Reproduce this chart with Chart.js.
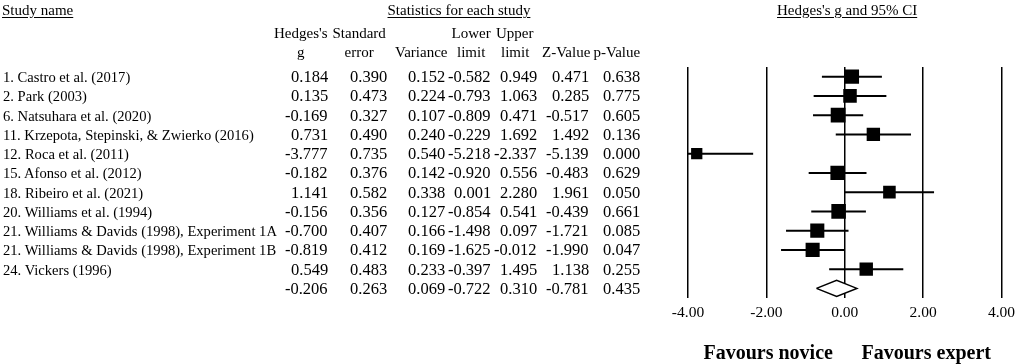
<!DOCTYPE html>
<html>
<head>
<meta charset="utf-8">
<script src="https://cdn.jsdelivr.net/npm/chart.js@4.4.1/dist/chart.umd.min.js"></script>
<style>
    html, body {
        margin: 0;
        padding: 0;
        background: #fff;
    }
    #page {
        position: relative;
        width: 1021px;
        height: 364px;
        overflow: hidden;
        font-family: "Liberation Serif", "Times New Roman", serif;
        color: #000;
    }
    #forest {
        position: absolute;
        left: 0;
        top: 0;
    }
    .txt {
        position: absolute;
        white-space: nowrap;
        line-height: 20px;
        height: 20px;
    }
    .head { font-size: 15px; }
    .name { font-size: 14.6px; }
    .num { font-size: 16.5px; }
    .ul { text-decoration: underline; text-underline-offset: 2px; }
    .favour { font-size: 20px; font-weight: bold; line-height: 24px; height: 24px; }
</style>
</head>
<body>
<div id="page">
    <canvas id="forest" width="1021" height="364"></canvas>
</div>
<script>
const studyNames = [
    '1. Castro et al. (2017)',
    '2. Park (2003)',
    '6. Natsuhara et al. (2020)',
    '11. Krzepota, Stepinski, & Zwierko (2016)',
    '12. Roca et al. (2011)',
    '15. Afonso et al. (2012)',
    '18. Ribeiro et al. (2021)',
    '20. Williams et al. (1994)',
    '21. Williams & Davids (1998), Experiment 1A',
    '21. Williams & Davids (1998), Experiment 1B',
    '24. Vickers (1996)'
];
const hedgesG = [0.184, 0.135, -0.169, 0.731, -3.777, -0.182, 1.141, -0.156, -0.700, -0.819, 0.549];
const standardError = [0.390, 0.473, 0.327, 0.490, 0.735, 0.376, 0.582, 0.356, 0.407, 0.412, 0.483];
const variance = [0.152, 0.224, 0.107, 0.240, 0.540, 0.142, 0.338, 0.127, 0.166, 0.169, 0.233];
const lowerLimit = [-0.582, -0.793, -0.809, -0.229, -5.218, -0.920, 0.001, -0.854, -1.498, -1.625, -0.397];
const upperLimit = [0.949, 1.063, 0.471, 1.692, -2.337, 0.556, 2.280, 0.541, 0.097, -0.012, 1.495];
const zValue = [0.471, 0.285, -0.517, 1.492, -5.139, -0.483, 1.961, -0.439, -1.721, -1.990, 1.138];
const pValue = [0.638, 0.775, 0.605, 0.136, 0.000, 0.629, 0.050, 0.661, 0.085, 0.047, 0.255];
// pooled row: g, SE, variance, lower, upper, Z, p
const summaryStats = [-0.206, 0.263, 0.069, -0.722, 0.310, -0.781, 0.435];
const xTicks = [-4, -2, 0, 2, 4];

const columnHeaders = [
    ["Hedges's", 'g'],
    ['Standard', 'error'],
    ['', 'Variance'],
    ['Lower', 'limit'],
    ['Upper', 'limit'],
    ['', 'Z-Value'],
    ['', 'p-Value']
];

// layout of the table (pixels)
const firstRowY = 77;
const rowStep = 19.25;
const valueRight = [328, 387, 445, 491, 537, 589, 640];
const headerCenter = [301, 359, 421, 471, 515, 566, 617];

const page = document.getElementById('page');

function addText(text, cls, x, yCenter, align) {
    const el = document.createElement('div');
    el.className = 'txt ' + cls;
    el.textContent = text;
    page.appendChild(el);
    const h = el.offsetHeight;
    const w = el.offsetWidth;
    el.style.top = (yCenter - h / 2) + 'px';
    if (align === 'right') {
        el.style.left = (x - w) + 'px';
    } else if (align === 'center') {
        el.style.left = (x - w / 2) + 'px';
    } else {
        el.style.left = x + 'px';
    }
    return el;
}

function buildTable() {
    addText('Study name', 'head ul', 2, 10, 'left');
    addText('Statistics for each study', 'head ul', 459, 10, 'center');
    addText("Hedges's g and 95% CI", 'head ul', 847, 10, 'center');

    columnHeaders.forEach((lines, i) => {
        if (lines[0]) addText(lines[0], 'head', headerCenter[i], 33, 'center');
        addText(lines[1], 'head', headerCenter[i], 52, 'center');
    });

    studyNames.forEach((name, i) => {
        const y = firstRowY + i * rowStep;
        addText(name, 'name', 3, y, 'left');
        const values = [hedgesG[i], standardError[i], variance[i], lowerLimit[i], upperLimit[i], zValue[i], pValue[i]];
        values.forEach((v, c) => addText(v.toFixed(3), 'num', valueRight[c], y, 'right'));
    });

    const summaryY = firstRowY + studyNames.length * rowStep;
    summaryStats.forEach((v, c) => addText(v.toFixed(3), 'num', valueRight[c], summaryY, 'right'));

    addText('Favours novice', 'favour', 768, 352, 'center');
    addText('Favours expert', 'favour', 926, 352, 'center');
}

function buildForest() {
    const rows = studyNames.map((_, i) => i + 1);
    const summaryRow = studyNames.length + 1;
    const diamondHalf = 0.42;

    // random-effects style weights only used to size the squares
    const tau2 = 0.5;
    const squareRadius = variance.map(v => 11.5 * Math.sqrt(1 / (v + tau2)) / Math.SQRT2);

    const ciSets = rows.map((row, i) => ({
        data: [{ x: lowerLimit[i], y: row }, { x: upperLimit[i], y: row }],
        showLine: true,
        borderColor: '#000',
        borderWidth: 2,
        pointRadius: 0,
        order: 3
    }));

    const squares = {
        data: rows.map((row, i) => ({ x: hedgesG[i], y: row })),
        pointStyle: 'rect',
        pointRadius: squareRadius,
        pointBackgroundColor: '#000',
        pointBorderColor: '#000',
        pointBorderWidth: 0,
        order: 1
    };

    const [pooledG, , , pooledLo, pooledHi] = summaryStats;
    const diamond = {
        data: [
            { x: pooledLo, y: summaryRow },
            { x: pooledG, y: summaryRow - diamondHalf },
            { x: pooledHi, y: summaryRow },
            { x: pooledG, y: summaryRow + diamondHalf },
            { x: pooledLo, y: summaryRow }
        ],
        showLine: true,
        borderColor: '#000',
        borderWidth: 1.5,
        backgroundColor: '#fff',
        fill: 'shape',
        pointRadius: 0,
        tension: 0,
        order: 2
    };

    new Chart(document.getElementById('forest'), {
        type: 'scatter',
        data: {
            datasets: [...ciSets, squares, diamond]
        },
        options: {
            responsive: false,
            animation: false,
            events: [],
            layout: {
                padding: { left: 688, right: 15, top: 67, bottom: 0 }
            },
            plugins: {
                legend: { display: false },
                tooltip: { enabled: false }
            },
            scales: {
                x: {
                    type: 'linear',
                    min: xTicks[0],
                    max: xTicks[xTicks.length - 1],
                    afterBuildTicks: scale => {
                        scale.ticks = xTicks.map(v => ({ value: v }));
                    },
                    afterFit: scale => {
                        scale.height = 66;
                    },
                    border: { display: false },
                    grid: {
                        color: '#000',
                        lineWidth: 1.5,
                        drawTicks: false
                    },
                    ticks: {
                        padding: 6,
                        color: '#000',
                        font: { family: '"Liberation Serif", "Times New Roman", serif', size: 15.5 },
                        callback: v => v.toFixed(2)
                    }
                },
                y: {
                    type: 'linear',
                    reverse: true,
                    min: 0.5,
                    max: summaryRow + 0.5,
                    display: false
                }
            }
        }
    });
}

buildTable();
buildForest();
</script>
</body>
</html>
